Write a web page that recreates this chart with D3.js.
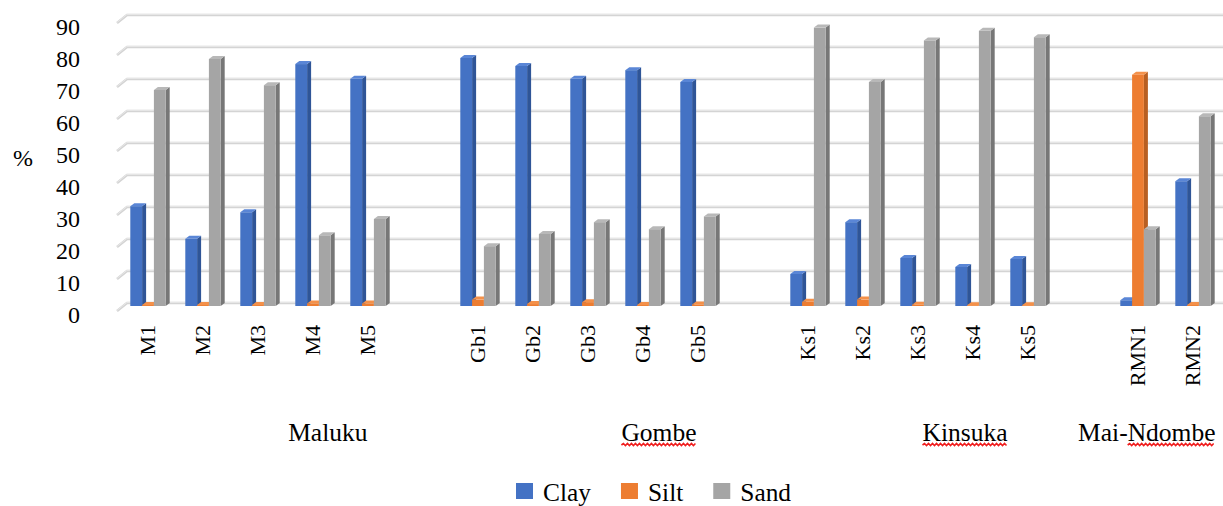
<!DOCTYPE html>
<html>
<head>
<meta charset="utf-8">
<script src="https://cdn.jsdelivr.net/npm/d3@7/dist/d3.min.js"></script>
<style>
  html, body { margin: 0; padding: 0; background: #fff; }
  svg { display: block; }
</style>
</head>
<body>
<svg id="chart" width="1223" height="506"></svg>
<script>
// Soil texture fractions (%) per sample, grouped by site
const groups = ["Maluku", "Gombe", "Kinsuka", "Mai-Ndombe"];
const groupSizes = [5, 5, 5, 2];
const categories = ["M1", "M2", "M3", "M4", "M5",
                    "Gb1", "Gb2", "Gb3", "Gb4", "Gb5",
                    "Ks1", "Ks2", "Ks3", "Ks4", "Ks5",
                    "RMN1", "RMN2"];
const seriesNames = ["Clay", "Silt", "Sand"];
const clay = [31.2, 21, 29.3, 75.6, 71, 77.5, 75, 71, 73.7, 70, 10, 26.2, 15, 12.2, 14.7, 1.8, 39];
const silt = [0.3, 0.3, 0.3, 0.8, 0.8, 2, 0.6, 1.2, 0.3, 0.5, 1.3, 2, 0.4, 0.2, 0.2, 72.3, 0.3];
const sand = [67.5, 77.2, 69, 22.1, 27.2, 18.7, 22.5, 26.2, 24, 28, 87, 70, 83, 86, 84, 24, 59.3];
const yTicks = [0, 10, 20, 30, 40, 50, 60, 70, 80, 90];
const yLabel = "%";

// Styling
const FONT = "'Liberation Serif', 'Times New Roman', 'DejaVu Serif', serif";
const colors = {
  Clay: { front: "#4472c4", top: "#5a86d6", side: "#2f5597" },
  Silt: { front: "#ed7d31", top: "#f4914a", side: "#b85f22" },
  Sand: { front: "#a5a5a5", top: "#b8b8b8", side: "#777777" }
};
const values = { Clay: clay, Silt: silt, Sand: sand };
const depthX = 4, depthY = 3;          // bar extrusion
const floorX = 10, floorY = 8;         // side-wall slant of gridlines
// label shift (px) relative to right end of each site's span
const groupLabelShift = [-28, -29, -48, -5];

const svg = d3.select("#chart").attr("font-family", FONT);

// Slots: each site's samples, with an empty slot between sites
const slots = [];
let ci = 0;
groups.forEach((g, gi) => {
  for (let k = 0; k < groupSizes[gi]; k++) slots.push({ key: categories[ci], idx: ci++, group: gi });
  if (gi < groups.length - 1) slots.push({ key: "__gap" + gi, idx: -1, group: gi });
});

const x = d3.scaleBand().domain(slots.map(s => s.key)).range([120.5, 1220.5]).padding(0);
const clusterW = 35.4;
const xs = d3.scaleBand().domain(seriesNames).range([0, clusterW]);
const y = d3.scaleLinear().domain([0, 90]).range([303, 15]);

function txt(sel) {
  return sel.style("font-family", FONT).attr("fill", "#000");
}

// Back-wall gridlines with slanted side-wall segment
const grid = svg.append("g");
yTicks.forEach(v => {
  const yy = y(v);
  const d = `M${117},${yy + floorY} L${117 + floorX},${yy} L1223,${yy}`;
  grid.append("path").attr("d", d)
    .attr("fill", "none").attr("stroke", "#d4d4d4").attr("stroke-width", 2.6);
  grid.append("path").attr("d", d)
    .attr("fill", "none").attr("stroke", "#e8e8e8").attr("stroke-width", 1)
    .attr("transform", "translate(0,-0.6)");
});

// Y tick labels
txt(svg.append("g").selectAll("text").data(yTicks).join("text"))
  .attr("x", 80)
  .attr("y", d => y(d) + 11.5)
  .attr("text-anchor", "end")
  .attr("dominant-baseline", "central")
  .style("font-size", "24px")
  .text(d => d);

txt(svg.append("text"))
  .attr("x", 23).attr("y", 158)
  .attr("text-anchor", "middle")
  .attr("dominant-baseline", "central")
  .style("font-size", "24px")
  .text(yLabel);

// 3D-style columns
const bars = svg.append("g");
const catSlots = slots.filter(s => s.idx >= 0);
catSlots.forEach(s => {
  const left = x(s.key) + (x.bandwidth() - clusterW) / 2;
  seriesNames.forEach(name => {
    const v = values[name][s.idx];
    const x0 = left + xs(name);
    const w = xs.bandwidth();
    const yb = y(0) + depthY;            // front base
    let yt = y(v) + depthY;               // front top
    if (yb - yt < 0.8) yt = yb - 0.8;
    const c = colors[name];
    const g = bars.append("g");
    g.append("path")
      .attr("d", `M${x0 + w},${yt} L${x0 + w + depthX},${yt - depthY} L${x0 + w + depthX},${yb - depthY} L${x0 + w},${yb} Z`)
      .attr("fill", c.side);
    g.append("rect")
      .attr("x", x0).attr("y", yt)
      .attr("width", w).attr("height", yb - yt)
      .attr("fill", c.front);
    g.append("path")
      .attr("d", `M${x0},${yt} L${x0 + w},${yt} L${x0 + w + depthX},${yt - depthY} L${x0 + depthX},${yt - depthY} Z`)
      .attr("fill", c.top);
  });
});

// Category labels (rotated)
txt(svg.append("g").selectAll("text").data(catSlots).join("text"))
  .attr("transform", d => `translate(${x(d.key) + x.bandwidth() / 2 - 1},325) rotate(-90)`)
  .attr("text-anchor", "end")
  .attr("dominant-baseline", "central")
  .style("font-size", "22px")
  .text(d => categories[d.idx]);

// Site labels with spell-check style wavy underline
function squiggle(x1, x2, yy) {
  let d = `M${x1},${yy}`;
  let up = true;
  for (let xx = x1 + 2; xx <= x2; xx += 2) {
    d += ` L${xx},${yy + (up ? -1.5 : 0.5)}`;
    up = !up;
  }
  return d;
}
function drawSquiggle(bb) {
  glab.append("path").attr("d", squiggle(bb.x, bb.x + bb.width, 445))
    .attr("fill", "none").attr("stroke", "#f01e1e").attr("stroke-width", 1.6);
}
const underlined = { "Gombe": "all", "Kinsuka": "all", "Mai-Ndombe": "Ndombe" };
const glab = svg.append("g");
groups.forEach((g, gi) => {
  const members = slots.filter(s => s.idx >= 0 && s.group === gi);
  const spanEnd = x(members[members.length - 1].key) + x.bandwidth();
  const t = txt(glab.append("text"))
    .attr("x", spanEnd + groupLabelShift[gi])
    .attr("y", 441)
    .attr("text-anchor", "end")
    .style("font-size", "25.5px");
  const u = underlined[g];
  if (u && u !== "all") {
    t.append("tspan").text(g.slice(0, g.length - u.length));
    const ts = t.append("tspan").text(u);
    drawSquiggle(ts.node().getBBox());
  } else {
    t.text(g);
    if (u) drawSquiggle(t.node().getBBox());
  }
});

// Legend
const legend = svg.append("g");
let lx = 516;
seriesNames.forEach(name => {
  legend.append("rect")
    .attr("x", lx).attr("y", 483)
    .attr("width", 17).attr("height", 16)
    .attr("fill", colors[name].front);
  const t = txt(legend.append("text"))
    .attr("x", lx + 27).attr("y", 501)
    .style("font-size", "25.4px")
    .text(name);
  lx += 27 + t.node().getComputedTextLength() + 30;
});
</script>
</body>
</html>
